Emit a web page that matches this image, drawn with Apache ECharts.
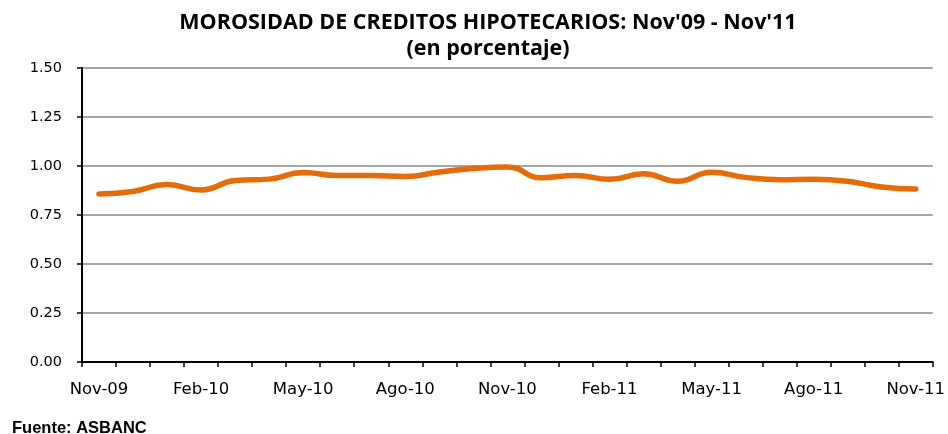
<!DOCTYPE html>
<html>
<head>
<meta charset="utf-8">
<script src="https://cdn.jsdelivr.net/npm/echarts@6/dist/echarts.min.js"></script>
<style>
    html, body { margin: 0; padding: 0; background: #fff; }
    #chart { width: 948px; height: 434px; }
</style>
</head>
<body>
<div id="chart"></div>
<script>
const months = ['Nov-09', 'Dic-09', 'Ene-10', 'Feb-10', 'Mar-10', 'Abr-10', 'May-10', 'Jun-10', 'Jul-10',
    'Ago-10', 'Set-10', 'Oct-10', 'Nov-10', 'Dic-10', 'Ene-11', 'Feb-11', 'Mar-11', 'Abr-11',
    'May-11', 'Jun-11', 'Jul-11', 'Ago-11', 'Set-11', 'Oct-11', 'Nov-11'];
const morosidad = [0.857, 0.870, 0.905, 0.878, 0.926, 0.933, 0.967, 0.952, 0.952, 0.947, 0.969, 0.987,
    0.995, 0.940, 0.952, 0.932, 0.960, 0.922, 0.968, 0.942, 0.930, 0.932, 0.922, 0.893, 0.883];
const yTicks = [0, 0.25, 0.5, 0.75, 1.0, 1.25, 1.5];

const chart = echarts.init(document.getElementById('chart'));

const option = {
    animation: false,
    title: {
        text: "MOROSIDAD DE CREDITOS HIPOTECARIOS: Nov'09 - Nov'11\n(en porcentaje)",
        left: 483,
        textAlign: 'center',
        top: 5,
        textStyle: {
            fontFamily: 'Open Sans',
            fontWeight: 'bold',
            fontSize: 21.5,
            color: '#000',
            lineHeight: 26
        }
    },
    graphic: [{
        type: 'text',
        left: 12,
        top: 420,
        style: {
            text: 'Fuente: ASBANC',
            fontFamily: 'Liberation Sans',
            fontWeight: 'bold',
            fontSize: 16.5,
            fill: '#000'
        }
    }],
    grid: {
        left: 82,
        right: 10,
        top: 68,
        bottom: 72
    },
    xAxis: {
        type: 'category',
        data: months,
        boundaryGap: true,
        axisLine: { lineStyle: { color: '#000', width: 2 } },
        axisTick: { show: true, interval: 0, length: 5, lineStyle: { color: '#000', width: 1.5 } },
        axisLabel: {
            interval: 2,
            margin: 19,
            fontFamily: 'DejaVu Sans',
            fontSize: 16.5,
            color: '#000'
        },
        splitLine: { show: false }
    },
    yAxis: {
        type: 'value',
        min: yTicks[0],
        max: yTicks[yTicks.length - 1],
        interval: 0.25,
        axisLine: { show: true, lineStyle: { color: '#000', width: 2 } },
        axisTick: { show: true, length: 5, lineStyle: { color: '#000', width: 1.5 } },
        axisLabel: {
            margin: 20,
            fontFamily: 'DejaVu Sans',
            fontSize: 14.5,
            color: '#000',
            formatter: v => v.toFixed(2)
        },
        splitLine: { lineStyle: { color: '#888', width: 1.5 } }
    },
    series: [{
        type: 'line',
        data: morosidad,
        smooth: 0.5,
        showSymbol: false,
        lineStyle: { color: '#E46C0A', width: 5.5, cap: 'round' }
    }]
};

chart.setOption(option);
</script>
</body>
</html>
